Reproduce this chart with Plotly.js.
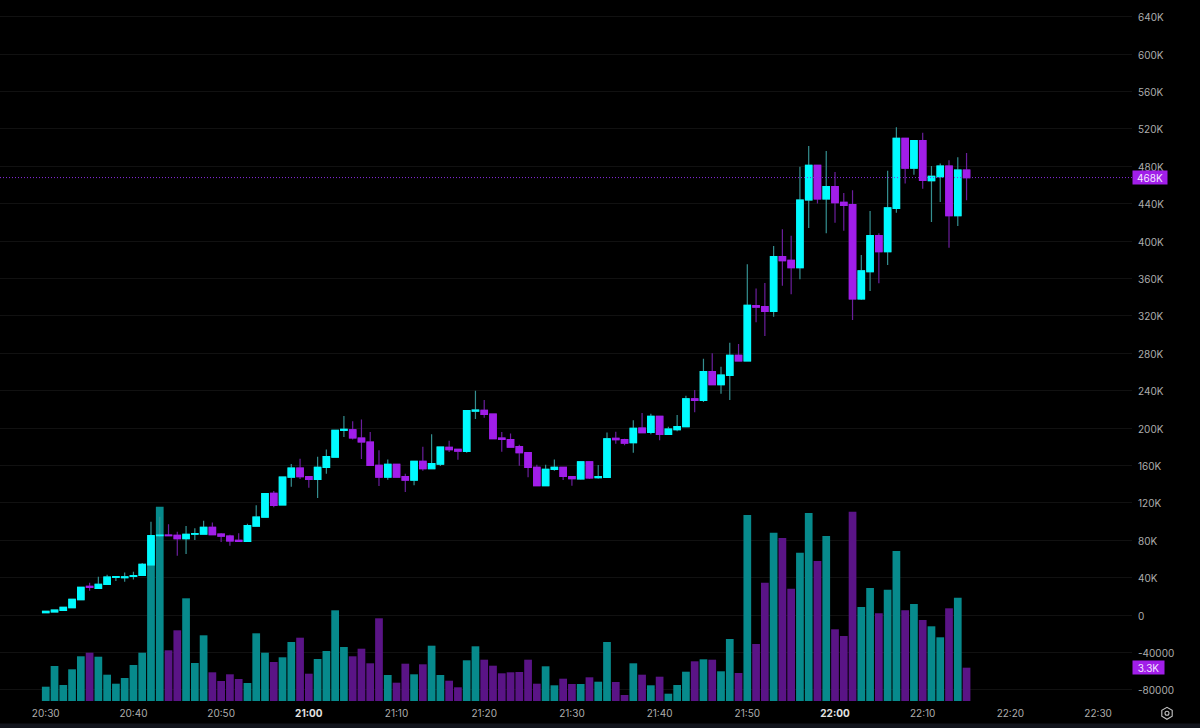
<!DOCTYPE html>
<html>
<head>
<meta charset="utf-8">
<title>Candlestick chart</title>
<script src="https://cdn.plot.ly/plotly-3.0.1.min.js"></script>
<style>html,body{margin:0;padding:0;background:#000;overflow:hidden}#chart{width:1200px;height:728px}</style>
</head>
<body>
<div id="chart"></div>
<script>
const times = ["20:30","20:31","20:32","20:33","20:34","20:35","20:36","20:37","20:38","20:39",
"20:40","20:41","20:42","20:43","20:44","20:45","20:46","20:47","20:48","20:49",
"20:50","20:51","20:52","20:53","20:54","20:55","20:56","20:57","20:58","20:59",
"21:00","21:01","21:02","21:03","21:04","21:05","21:06","21:07","21:08","21:09",
"21:10","21:11","21:12","21:13","21:14","21:15","21:16","21:17","21:18","21:19",
"21:20","21:21","21:22","21:23","21:24","21:25","21:26","21:27","21:28","21:29",
"21:30","21:31","21:32","21:33","21:34","21:35","21:36","21:37","21:38","21:39",
"21:40","21:41","21:42","21:43","21:44","21:45","21:46","21:47","21:48","21:49",
"21:50","21:51","21:52","21:53","21:54","21:55","21:56","21:57","21:58","21:59",
"22:00","22:01","22:02","22:03","22:04","22:05","22:06","22:07","22:08","22:09",
"22:10","22:11","22:12","22:13","22:14","22:15"];

const opens = [2.5,3.2,5.0,7.8,16.4,30.6,28.5,32.8,40.3,39.9,
41.4,42.4,53.5,85,85.6,85.2,81.7,86.5,86.6,93.8,
86.6,84.5,79.9,78.8,95.2,104.8,130.1,117.7,147.6,157.3,
148,145.1,158,169,197.6,198.2,189.4,185.1,160.1,147.6,
161.2,148,144.4,164.4,156.5,161.5,179.4,177.2,175.1,218.2,
219,215,189.4,187.6,180.1,173.7,158,138.4,155.8,158,
148,145.5,164,146.9,147.3,189,187.6,184.4,200,195.4,
212.5,193.3,198.3,201.5,231.4,229.7,260.3,246.4,256.4,277.8,
271.8,331,329.9,324.9,383.4,379.5,371.6,444,481.1,445.1,
458.3,441.5,439,338.1,367.4,405.9,388.7,435.1,510,478.2,
507.5,464.7,469,480.4,427.3,476.1];

const highs = [4.2,5.6,8.4,17,30,34.6,41,43.1,41.2,45.6,
46.4,55.6,99.8,105.2,97,89.1,95.2,92.7,100.9,99.1,
87.7,86,87.4,97.7,117.3,130,132.7,147.8,161.5,167.2,
148.7,169.4,177.2,197.8,212.9,207.2,209.3,195.8,176.2,166.5,
161.4,151.2,164.6,180.1,193.3,179.9,186.5,177.4,218.8,240,
230,215.2,195.8,194.3,182.2,173.9,160.8,160.8,166.5,158.2,
148.7,164.2,164.2,160.5,195.4,196.1,188.6,208.3,216.1,215.4,
212.7,201.5,214,234.6,240.7,274.2,280,265.7,291.4,290,
375.2,349.3,355.2,394.8,412.6,405.9,479.7,501.8,481.3,496.4,
474,451.5,454.4,385.2,432.2,408.4,475.4,521.8,510.2,507.7,
516,480.4,483.2,486.5,489.7,494.3];

const lows = [2.3,3.0,4.8,7.6,16.2,26,28,32.6,36.4,35.7,
38.1,42.2,53.3,83.1,84.5,63.5,65.3,80.2,85.9,85.6,
78.1,74.2,78.8,78.6,94.5,104.5,115.2,117.3,137.3,145.5,
136.2,125.2,151.2,168.3,190.4,187.9,166.9,159.4,138,144.8,
147.4,131.6,138.7,154.4,156.3,159.4,174.4,166.2,173.7,209.7,
211.1,188.4,174.7,179.5,159.8,147.3,138.2,138.2,154.4,144.4,
138.4,144.8,145.5,145.8,147.1,183.3,181.5,173.7,194.9,193.3,
186.9,193.1,196.5,201.3,216.8,227.9,246.2,236.8,230,271.6,
271.6,313.1,298.5,319.2,352.4,343.1,359.1,414.1,440.4,408.4,
419.8,411.2,315.6,337,346.7,354.9,374.5,430.5,461.8,471.1,
456.1,420.5,441.9,393,416.2,443.7];

const closes = [3.9,5.3,8.2,16.7,29.6,29.6,32.8,40.6,41,40.9,
42.1,54.2,84.9,85.5,84.9,81.7,86.3,87,93.8,85.9,
84.5,79.2,78.8,95.6,104.8,129.8,117.3,147.6,157.3,148,
145.1,158,169.4,197.6,198.6,189.4,185.1,160.1,147.6,161.2,
147.6,144.4,164.4,156.5,161.9,179.7,176.9,175.4,218.6,219.3,
214.7,188.6,187.9,179.7,173.7,158,138.4,155.8,158,148.3,
145.8,164,146.6,148,188.6,187.6,184,199.7,195.1,212.5,
193.3,199,201.5,231.4,229.6,260.3,246.4,256.8,277.8,271.8,
331.3,329.5,324.9,383.4,379.1,371.6,444,481.1,445.1,458.3,
441.2,438.3,338.1,368.1,405.9,388.7,435.5,510,478.2,507.5,
465,469.3,480.4,427.3,476.1,467.9];

const volumes = [1.43,3.5,1.6,3.17,4.47,4.83,4.43,2.63,1.73,2.3,
3.6,4.83,13.6,19.43,5.07,7.07,10.27,3.8,6.57,2.87,
2.0,2.67,2.2,1.8,6.77,4.83,3.9,4.37,5.9,6.33,
2.73,4.2,5.0,9.07,5.4,4.47,5.23,3.77,8.27,2.6,
1.83,3.73,2.67,3.67,5.53,2.6,2.03,1.37,4.07,5.47,
4.13,3.53,2.77,2.87,2.9,4.13,1.73,3.47,1.57,2.23,
1.7,1.7,2.37,1.93,5.9,1.9,0.6,3.77,2.63,1.57,
2.43,0.73,1.6,2.93,3.97,4.17,4.13,2.97,6.2,2.8,
18.6,5.7,11.83,16.83,16.3,11.23,14.83,18.8,14,16.5,
7.17,6.5,18.93,9.4,11.3,8.77,11.13,15,9.07,9.7,
8.1,7.47,6.37,9.27,10.33,3.33];

const xTickTimes = ["20:30","20:40","20:50","21:00","21:10","21:20","21:30","21:40","21:50","22:00","22:10","22:20","22:30"];
const xTickText = ["20:30","20:40","20:50","<b style='color:#e2e2e2'>21:00</b>","21:10","21:20","21:30","21:40","21:50","<b style='color:#e2e2e2'>22:00</b>","22:10","22:20","22:30"];
const yTickVals = [640,600,560,520,480,440,400,360,320,280,240,200,160,120,80,40,0,-40,-80];
const yTickText = ["640K","600K","560K","520K","480K","440K","400K","360K","320K","280K","240K","200K","160K","120K","80K","40K","0","-40000","-80000"];
const lastPrice = 468;
const lastPriceLabel = "468K";
const lastVolume = 3.33;
const lastVolumeLabel = "3.3K";

const day = "2024-01-01 ";
const stamp = t => day + t;
const xs = times.map(stamp);

const CYAN = "#00fbff", PURPLE = "#a11ee9";
const WICK_UP = "#348f90", WICK_DOWN = "#6a1e9c";
const VOL_UP = "#078a8c", VOL_DOWN = "#5a1486";

const bodyTop = opens.map((o,i)=>Math.max(o,closes[i]));
const bodyBot = opens.map((o,i)=>Math.min(o,closes[i]));

const traces = [
  { type:"bar", x:xs, y:volumes, yaxis:"y", xaxis:"x", hoverinfo:"skip", showlegend:false,
    marker:{color:volumes.map((v,i)=>closes[i]>=opens[i]?VOL_UP:VOL_DOWN), line:{width:0}} },
  { type:"candlestick", x:xs, open:opens, high:highs, low:lows, close:closes, yaxis:"y2", xaxis:"x",
    hoverinfo:"skip", showlegend:false, whiskerwidth:0,
    increasing:{line:{color:WICK_UP,width:1.2},fillcolor:WICK_UP},
    decreasing:{line:{color:WICK_DOWN,width:1.2},fillcolor:WICK_DOWN} },
  { type:"candlestick", x:xs, open:opens, high:bodyTop, low:bodyBot, close:closes, yaxis:"y2", xaxis:"x",
    hoverinfo:"skip", showlegend:false, whiskerwidth:0,
    increasing:{line:{color:CYAN,width:1.2},fillcolor:CYAN},
    decreasing:{line:{color:PURPLE,width:1.2},fillcolor:PURPLE} }
];

const font = "Inter, 'Open Sans', sans-serif";
const labelColor = "#adadad";
const px = v => v/1132;
const py = v => 1 - v/701;

const layout = {
  width:1200, height:728, autosize:false,
  paper_bgcolor:"#000", plot_bgcolor:"#000",
  margin:{l:0,r:68,t:0,b:27,pad:0},
  showlegend:false, bargap:0.12, barmode:"overlay", boxmode:"overlay", boxgap:0.27, boxgroupgap:0, dragmode:false, hovermode:false,
  font:{family:font,size:10,color:labelColor},
  xaxis:{ type:"date", range:[day+"20:24:47",day+"22:33:52"], showgrid:false, zeroline:false, showline:false,
    ticks:"", tickvals:xTickTimes.map(stamp), ticktext:xTickText, tickangle:0, ticklabelstandoff:5,
    tickfont:{family:font,size:10,color:labelColor}, rangeslider:{visible:false}, fixedrange:true },
  yaxis:{ range:[0,70.1], visible:false, showgrid:false, zeroline:false, fixedrange:true },
  yaxis2:{ overlaying:"y", side:"right", range:[-92,658], tickvals:yTickVals, ticktext:yTickText,
    showgrid:true, gridcolor:"#111111", gridwidth:1, zeroline:false, showline:false, ticks:"",
    ticklabelstandoff:5, ticklabelshift:1, tickfont:{family:font,size:10,color:labelColor}, fixedrange:true },
  shapes:[
    { type:"line", xref:"paper", x0:0, x1:1, yref:"y2", y0:lastPrice, y1:lastPrice,
      line:{color:"#8a2be2",width:1,dash:"1px,2px"}, layer:"above" },
    { type:"rect", xref:"paper", x0:0, x1:px(1200), yref:"paper", y0:py(728), y1:py(723.5),
      line:{width:0}, fillcolor:"#12141c" },
    { type:"path", xref:"paper", yref:"paper", xsizemode:"pixel", ysizemode:"pixel",
      xanchor:px(1167), yanchor:py(713.3),
      path:"M0,-6 L5.2,-3 L5.2,3 L0,6 L-5.2,3 L-5.2,-3 Z",
      line:{color:"#c4c4c4",width:1.1}, fillcolor:"rgba(0,0,0,0)" },
    { type:"circle", xref:"paper", yref:"paper", xsizemode:"pixel", ysizemode:"pixel",
      xanchor:px(1167), yanchor:py(713.3), x0:-2, x1:2, y0:-2, y1:2,
      line:{color:"#c4c4c4",width:1.1}, fillcolor:"rgba(0,0,0,0)" }
  ],
  annotations:[
    { xref:"paper", x:1, xanchor:"left", yref:"y2", y:lastPrice, yanchor:"middle", text:lastPriceLabel, showarrow:false,
      bgcolor:PURPLE, width:34, height:13, borderpad:0, font:{family:font,size:10,color:"#f3e6ff"}, align:"center" },
    { xref:"paper", x:1, xanchor:"left", yref:"y", y:lastVolume, yanchor:"middle", text:lastVolumeLabel, showarrow:false,
      bgcolor:PURPLE, width:31, height:13, borderpad:0, font:{family:font,size:10,color:"#f3e6ff"}, align:"center" }
  ]
};

Plotly.newPlot("chart", traces, layout, {displayModeBar:false, responsive:false});
</script>
</body>
</html>
